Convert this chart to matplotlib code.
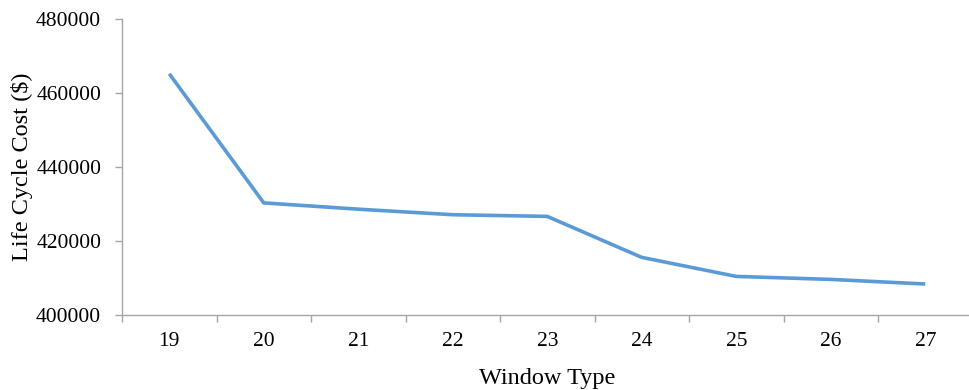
import numpy as np
import matplotlib.pyplot as plt
from matplotlib.ticker import FixedLocator

window_types = ['19', '20', '21', '22', '23', '24', '25', '26', '27']
life_cycle_cost = [465200, 430300, 428600, 427100, 426650, 415570, 410430, 409620, 408380]

plt.rcParams['font.family'] = ['Liberation Serif', 'DejaVu Serif']

fig = plt.figure(figsize=(9.69, 3.9), dpi=100)
ax = fig.add_axes([122 / 969, 75 / 390, 850.5 / 969, 296 / 390])

x = np.arange(len(window_types))
ax.plot(x, life_cycle_cost, color='#5B9BD5', linewidth=2.6, solid_capstyle='butt')

ax.set_xlim(-0.5, len(window_types) - 0.5)
ax.set_ylim(400000, 480000)
ax.set_yticks(np.arange(400000, 480001, 20000))

ax.set_xticks(x)
ax.set_xticklabels(window_types)
ax.xaxis.set_minor_locator(FixedLocator(np.arange(-0.5, len(window_types), 1.0)))

axis_grey = '#A6A6A6'
for side in ['top', 'right']:
    ax.spines[side].set_visible(False)
for side in ['left', 'bottom']:
    ax.spines[side].set_color(axis_grey)
    ax.spines[side].set_linewidth(1.0)

ax.tick_params(axis='x', which='major', length=0, pad=12, labelsize=15.5)
ax.tick_params(axis='x', which='minor', length=5, width=1, color=axis_grey, direction='out')
ax.tick_params(axis='y', length=5, width=1, color=axis_grey, direction='out', pad=10, labelsize=15.5)

ax.set_xlabel('Window Type', fontsize=17.5, labelpad=12.5)
ax.set_ylabel('Life Cycle Cost ($)', fontsize=17.5, labelpad=2.5)

plt.savefig('out.png', dpi=100)
